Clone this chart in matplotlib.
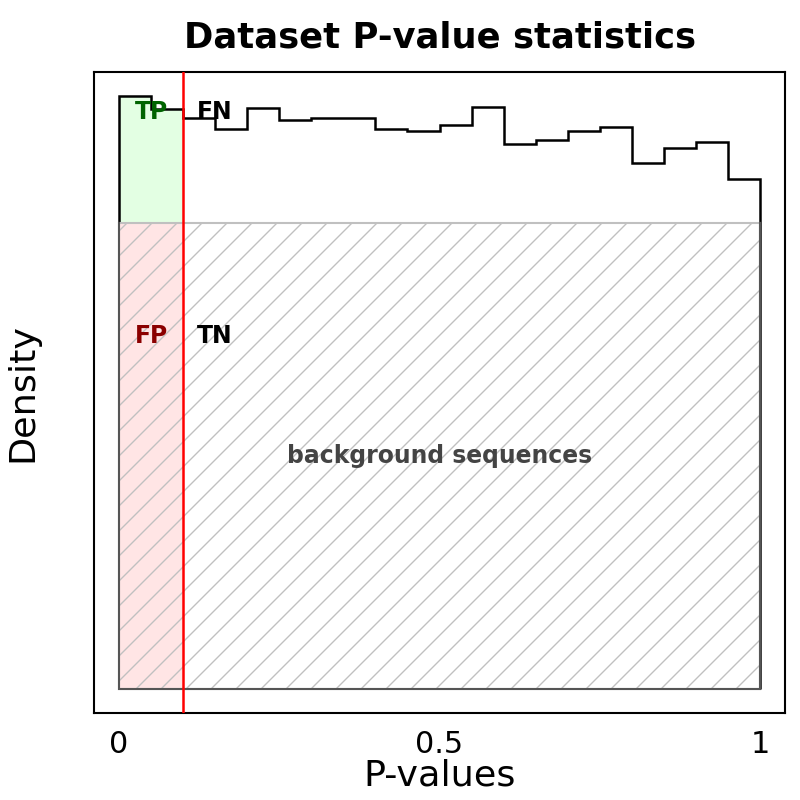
import matplotlib
matplotlib.use('Agg')
import matplotlib.pyplot as plt
from matplotlib.patches import Rectangle
import numpy as np

# ── Data ──────────────────────────────────────────────────────────────────
bin_edges = np.linspace(0.0, 1.0, 21)
density = [1.060, 1.036, 1.020, 1.000, 1.037, 1.017, 1.020, 1.020, 1.000, 0.997,
           1.007, 1.040, 0.973, 0.980, 0.997, 1.004, 0.940, 0.967, 0.977, 0.911]
pi0 = 0.833          # background (null) density level
alpha_cut = 0.1      # significance threshold
xtick_vals = [0, 0.5, 1]
xtick_labels = ['0', '0.5', '1']

plt.rcParams['hatch.linewidth'] = 0.65

fig = plt.figure(figsize=(800 / 150, 800 / 150), dpi=150)
ax = fig.add_axes([0.1175, 0.10875, 0.86375, 0.80125])

# TP region (above background, left of threshold)
sel = bin_edges[:-1] < alpha_cut
xs = np.column_stack([bin_edges[:-1][sel], bin_edges[1:][sel]]).ravel()
ys = np.repeat(np.array(density)[sel], 2)
ax.fill_between(xs, pi0, ys, color='#e3ffe3', lw=0, zorder=0.5)

# histogram outline
ax.stairs(density, bin_edges, baseline=0, color='black', lw=1.2, zorder=1)

# cover the part of the outline inside the background box
ax.add_patch(Rectangle((0, 0), 1, pi0, facecolor='white', edgecolor='none', zorder=2))

# FP region
ax.add_patch(Rectangle((0, 0), alpha_cut, pi0, facecolor='#ffe5e5', edgecolor='none', zorder=3))

# hatched background box
ax.add_patch(Rectangle((0, 0), 1, pi0, facecolor='none', edgecolor='#c0c0c0',
                       hatch='//', lw=1.0, zorder=4))
ax.plot([0, 0, 1, 1], [pi0, 0, 0, pi0], color='#555555', lw=1.0,
        solid_joinstyle='miter', zorder=5)

ax.axvline(alpha_cut, color='red', lw=1.2, zorder=6)

lab_fs = 11.3
ax.text(0.05, 1.031, 'TP', color='#006400', fontsize=lab_fs, fontweight='bold',
        ha='center', va='center', zorder=7)
ax.text(0.15, 1.031, 'FN', color='black', fontsize=lab_fs, fontweight='bold',
        ha='center', va='center', zorder=7)
ax.text(0.05, 0.63, 'FP', color='#8b0000', fontsize=lab_fs, fontweight='bold',
        ha='center', va='center', zorder=7)
ax.text(0.15, 0.63, 'TN', color='black', fontsize=lab_fs, fontweight='bold',
        ha='center', va='center', zorder=7)
ax.text(0.5, pi0 / 2, 'background sequences', color='#444444', fontsize=lab_fs,
        fontweight='bold', ha='center', va='center', zorder=7)

for sp in ax.spines.values():
    sp.set_linewidth(1.0)
    sp.set_color('black')

ax.set_xlim(-0.039, 1.039)
ax.set_ylim(-0.043, 1.102)
ax.set_xticks(xtick_vals)
ax.set_xticklabels(xtick_labels, fontsize=14.5)
ax.tick_params(axis='x', length=0, pad=8)
ax.set_yticks([])
ax.set_xlabel('P-values', fontsize=17.5, labelpad=0)
ax.set_ylabel('Density', fontsize=17.5, labelpad=26)
ax.set_title('Dataset P-value statistics', fontsize=17, fontweight='bold', pad=12)

fig.savefig('out.png', dpi=150)
